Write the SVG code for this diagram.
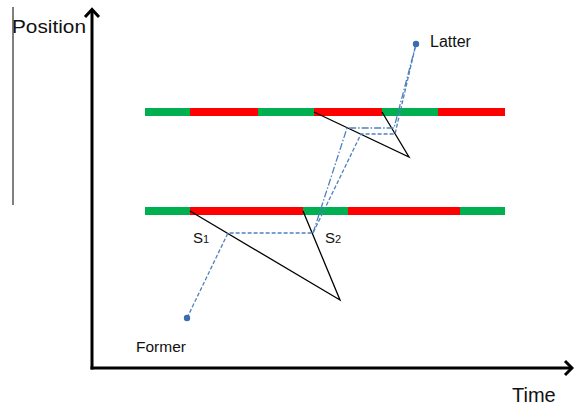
<svg xmlns="http://www.w3.org/2000/svg" width="574" height="407" viewBox="0 0 574 407">
  <style>
    .axis{stroke:#000;stroke-width:3;fill:none}
    .chev{stroke:#000;stroke-width:3;fill:none;stroke-linejoin:miter;stroke-linecap:butt}
    .green{fill:#00B050}
    .red{fill:#FF0000}
    .blk{stroke:#000;stroke-width:1.3;fill:none}
    .dash{stroke:#4F81BD;stroke-width:1.3;fill:none;stroke-dasharray:4 2}
    .dashdot{stroke:#4F81BD;stroke-width:1.3;fill:none;stroke-dasharray:7 2 1.5 2}
    .pt{fill:#3C6CAD}
    text{font-family:"Liberation Sans",Arial,sans-serif;fill:#111}
  </style>
  <rect width="574" height="407" fill="#fff"/>
  <g id="axes">
    <line x1="13" y1="7" x2="13" y2="205" stroke="#000" stroke-width="1"/>
    <line class="axis" x1="92" y1="369.5" x2="92" y2="10"/>
    <polyline class="chev" points="85,17 92,9.5 99,17"/>
    <line class="axis" x1="90.5" y1="368" x2="571" y2="368"/>
    <polyline class="chev" points="565,361 572,368 565,375"/>
    <text x="12" y="33" font-size="18" textLength="74" lengthAdjust="spacingAndGlyphs">Position</text>
    <text x="512" y="402" font-size="20">Time</text>
  </g>
  <g id="road-upper">
    <rect class="green" x="145" y="108" width="45" height="8"/>
    <rect class="red" x="190" y="108" width="68" height="8"/>
    <rect class="green" x="258" y="108" width="56" height="8"/>
    <rect class="red" x="314" y="108" width="68" height="8"/>
    <rect class="green" x="382" y="108" width="56" height="8"/>
    <rect class="red" x="438" y="108" width="67" height="8"/>
  </g>
  <g id="road-lower">
    <rect class="green" x="145" y="207" width="45" height="8"/>
    <rect class="red" x="190" y="207" width="113" height="8"/>
    <rect class="green" x="303" y="207" width="45" height="8"/>
    <rect class="red" x="348" y="207" width="112" height="8"/>
    <rect class="green" x="460" y="207" width="45" height="8"/>
  </g>
  <g id="connectors">
    <polyline class="blk" points="190,211 340,300 303,211"/>
    <polyline class="blk" points="314,112 409,157 382,112"/>
    <polyline class="dash" points="187,318 228,233 313,233 361,134 395,134 416,44"/>
    <polyline class="dashdot" points="313,233 347,128 394,128 416,44"/>
  </g>
  <g id="former">
    <circle class="pt" cx="187" cy="318" r="3.2"/>
    <text x="136" y="352" font-size="15.5">Former</text>
  </g>
  <g id="latter">
    <circle class="pt" cx="416" cy="44" r="3.2"/>
    <text x="430" y="47" font-size="16">Latter</text>
  </g>
  <g id="labels">
    <text x="193" y="243" font-size="15">S<tspan font-size="11">1</tspan></text>
    <text x="325" y="243" font-size="15">S<tspan font-size="11">2</tspan></text>
  </g>
</svg>
